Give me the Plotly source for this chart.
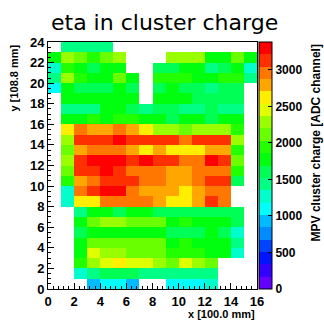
import colorsys
import plotly.graph_objects as go

# ---- data ----
x_centers = [0.5 + i for i in range(16)]
y_centers = [0.5 + i for i in range(24)]
N = None
mpv_rows = [
    [N, N, N, 930, 1100, 1100, 930, N, N, 1100, 1100, 1100, 1270, N, N, N],            # y 0
    [N, N, 1270, 1440, 1610, 1610, 1610, 1440, 1440, 1440, 1440, 1440, 1440, N, N, N],  # y 1
    [N, N, 1940, 2280, 2450, 2620, 2450, 2450, 2280, 2110, 2450, 2280, 2110, N, N, N],  # y 2
    [N, N, 1780, 2450, 2280, 2280, 2110, 2110, 2110, 1940, 1940, 1940, 1780, 1780, 1270, N],
    [N, N, 1780, 2110, 2110, 2110, 2110, 2110, 2110, 1780, 1940, 1780, 1780, 1780, 1440, N],
    [N, N, 1610, 1780, 1780, 1780, 1780, 1780, 1780, 1610, 1610, 1610, 1780, 1610, 1270, N],
    [N, N, 1780, 2110, 2280, 2280, 2110, 2110, 2110, 1780, 1940, 1780, 1780, 1780, 1610, N],
    [N, N, 1440, 1780, 1780, 1610, 1780, 1780, 1610, 1610, 1610, 1610, 1610, 1610, 1610, N],
    [N, 1270, 2620, 2620, 2960, 2960, 2960, 2960, 2790, 2620, 2620, 2790, 3130, 2960, N, N],
    [N, 1270, 2960, 3130, 3300, 3300, 2960, 2790, 2790, 2790, 2620, 2790, 2960, 2960, N, N],
    [N, 1940, 2790, 2960, 3130, 3130, 3130, 2960, 2960, 2790, 2790, 2960, 3130, 3130, 1610, N],
    [N, 2110, 3130, 3130, 3300, 3130, 2960, 2960, 2960, 2790, 2790, 2960, 2960, 2960, 1940, N],
    [N, 2280, 3130, 3300, 3300, 3300, 3130, 3300, 3130, 3130, 2960, 2960, 3300, 3130, 2110, N],
    [N, 2110, 2790, 2960, 2960, 2960, 2790, 2620, 2790, 2620, 2620, 2620, 2790, 2790, 1940, N],
    [N, 2280, 3130, 3130, 3130, 3300, 3130, 3130, 3130, 3130, 2960, 3130, 3130, 3130, 2280, N],
    [N, 2620, 2960, 2790, 2790, 2960, 2790, 2620, 2280, 2280, 2110, 2280, 2280, 2280, 1940, N],
    [N, 1780, 1780, 1940, 1780, 1940, 1940, 1780, 1780, 1610, 1780, 1780, 1610, 1780, 1780, N],
    [N, 1440, 1440, 1440, 1780, 1780, 1610, 1440, 1610, 1610, 1440, 1440, 1610, 1440, 1440, N],
    [N, 1780, 1780, 1780, 1780, 1780, 1780, N, 1780, 1780, 1780, 1610, 1610, 1610, 1610, N],
    [1100, 1780, 1610, 1610, 1610, 1780, 1610, N, 1610, 1780, 1610, 1610, 1440, 1610, 1610, N],
    [1440, 2280, 1940, 1780, 1780, 2110, 1780, N, 1940, 1940, 1940, 1780, 1780, 1940, 1940, 1440],
    [1270, 1940, 1780, 1610, 1780, 1780, N, N, 1610, 1610, 1780, 1780, 1440, 1610, 1780, 1270],
    [1780, 2280, 2110, 1940, 2110, 2280, N, N, N, 2280, 2280, 2280, 1780, 1780, 2110, 1780],
    [N, 1440, 1440, 1440, 1440, N, N, N, N, N, N, N, N, N, N, N],                       # y 23
]
z_min, z_max = 0, 3380
cbar_ticks = [0, 500, 1000, 1500, 2000, 2500, 3000]
x_ticks = [0, 2, 4, 6, 8, 10, 12, 14, 16]
y_ticks = [0, 2, 4, 6, 8, 10, 12, 14, 16, 18, 20, 22, 24]

# ---- ROOT "pretty" palette, 20 contour levels ----
ncont = 20
colorscale = []
for k in range(ncont):
    j = int((k + 0.99) * 50 / ncont)
    hue = 280 - (j + 1) * 5.6
    r, g, b = colorsys.hls_to_rgb((hue % 360) / 360.0, 0.5, 1.0)
    c = "rgb(%d,%d,%d)" % (round(r * 255), round(g * 255), round(b * 255))
    colorscale.append([k / ncont, c])
    colorscale.append([(k + 1) / ncont, c])

bold = dict(family="Liberation Sans", size=13, color="black", weight="bold")

fig = go.Figure(go.Heatmap(
    x=x_centers, y=y_centers, z=mpv_rows,
    zmin=z_min, zmax=z_max, colorscale=colorscale, zsmooth=False,
    colorbar=dict(
        x=1.0096, xanchor="left", xpad=0, y=0, yanchor="bottom", len=1, lenmode="fraction",
        ypad=0, thickness=13, thicknessmode="pixels", outlinewidth=1, outlinecolor="black",
        tickvals=cbar_ticks, ticks="inside", ticklen=4, tickcolor="black",
        tickfont=dict(family="Liberation Sans", size=12, color="black", weight="bold"),
    ),
))

fig.update_layout(
    width=324, height=320,
    margin=dict(l=48, r=67, t=42, b=31, pad=0),
    paper_bgcolor="white", plot_bgcolor="white",
    title=dict(text="eta in cluster charge", x=0.508, xref="container", xanchor="center",
               y=1 - 22 / 320, yref="container", yanchor="middle",
               font=dict(family="DejaVu Sans", size=22, color="black")),
    xaxis=dict(range=[0, 16], tickvals=x_ticks, ticks="inside", ticklen=6, tickcolor="black",
               showline=True, linecolor="black", linewidth=1, mirror=True, showgrid=False,
               zeroline=False, tickfont=bold,
               minor=dict(dtick=0.4, ticks="inside", ticklen=3, tickcolor="black")),
    yaxis=dict(range=[0, 24], tickvals=y_ticks, ticks="inside", ticklen=6, tickcolor="black",
               showline=True, linecolor="black", linewidth=1, mirror=True, showgrid=False,
               zeroline=False, tickfont=bold,
               minor=dict(dtick=0.5, ticks="inside", ticklen=3, tickcolor="black")),
    annotations=[
        dict(text="x [100.0 mm]", xref="paper", yref="paper", x=1, y=-0.1,
             xanchor="right", yanchor="middle", showarrow=False,
             font=dict(family="Liberation Sans", size=11, color="black", weight="bold")),
        dict(text="y [108.8 mm]", xref="paper", yref="paper", x=-0.163, y=1,
             xanchor="center", yanchor="top", textangle=-90, showarrow=False,
             font=dict(family="Liberation Sans", size=11, color="black", weight="bold")),
        dict(text="MPV cluster charge [ADC channel]", xref="paper", yref="paper", x=1.282, y=1,
             xanchor="center", yanchor="top", textangle=-90, showarrow=False,
             font=dict(family="Liberation Sans", size=12, color="black", weight="bold")),
    ],
)

fig.write_html("out.html", config={"displayModeBar": False},
               post_script="document.body.style.margin='0';")
